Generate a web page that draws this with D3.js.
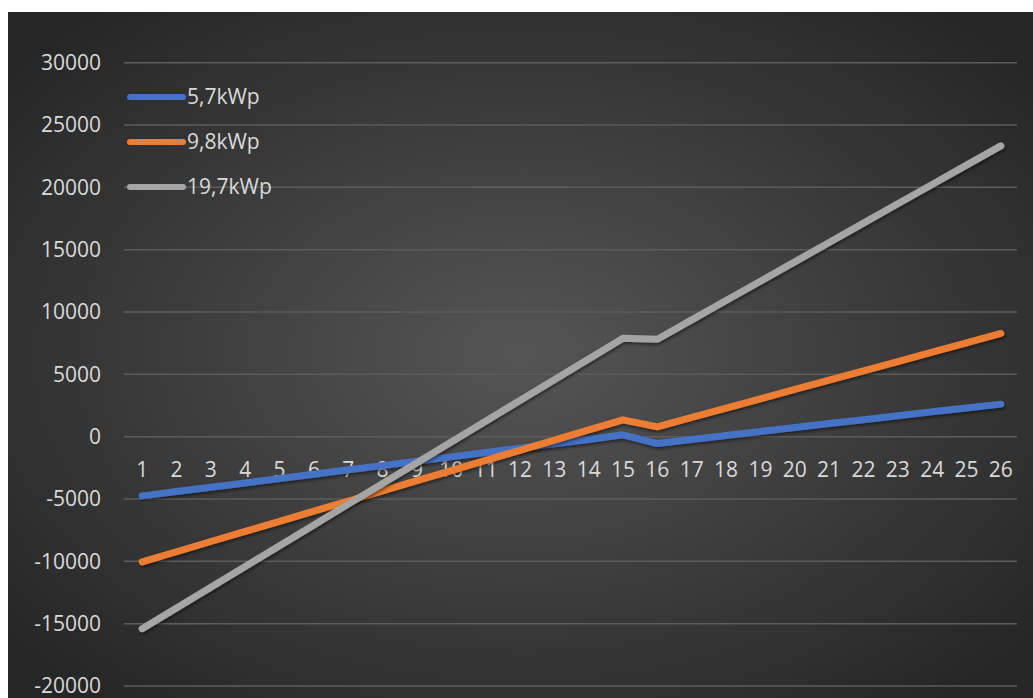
<!DOCTYPE html>
<html>
<head>
<meta charset="utf-8">
<script src="https://cdn.jsdelivr.net/npm/d3@7"></script>
<style>
  html, body { margin: 0; padding: 0; background: #fff; }
  svg { display: block; }
  .tick-label { font-family: "Open Sans", "Noto Sans", sans-serif; font-size: 21px; fill: #d9d9d9; }
</style>
</head>
<body>
<div id="chart"></div>
<script>
// categories (years)
const years = d3.range(1, 27);
const yTicks = [30000, 25000, 20000, 15000, 10000, 5000, 0, -5000, -10000, -15000, -20000];

// series values
const kwp57 = [-4750, -4400, -4060, -3710, -3360, -3010, -2660, -2320, -1970, -1620,
  -1270, -920, -570, -220, 150, -550, -230, 90, 410, 730, 1050, 1360, 1680, 2000, 2300, 2610];
const kwp98 = [-10040, -9230, -8410, -7600, -6790, -5970, -5160, -4350, -3530, -2720,
  -1900, -1090, -280, 540, 1350, 790, 1540, 2290, 3040, 3790, 4530, 5280, 6030, 6780, 7530, 8280];
const kwp197 = [-15400, -13740, -12070, -10410, -8740, -7080, -5410, -3750, -2090, -420,
  1240, 2910, 4570, 6240, 7900, 7820, 9370, 10920, 12470, 14020, 15580, 17130, 18680, 20230, 21780, 23330];

const seriesNames = ['5,7kWp', '9,8kWp', '19,7kWp'];
const seriesColors = ['#4472c4', '#ed7d31', '#a5a5a5'];
const seriesData = [kwp57, kwp98, kwp197];

const W = 1033, H = 698;
const svg = d3.select('#chart').append('svg').attr('width', W).attr('height', H);

const defs = svg.append('defs');
const grad = defs.append('radialGradient').attr('id', 'bg')
  .attr('cx', '50%').attr('cy', '50%').attr('r', '65%');
grad.append('stop').attr('offset', '0%').attr('stop-color', '#555555');
grad.append('stop').attr('offset', '100%').attr('stop-color', '#262626');

const shadow = defs.append('filter').attr('id', 'shadow')
  .attr('x', '-5%').attr('y', '-5%').attr('width', '110%').attr('height', '110%');
shadow.append('feDropShadow').attr('dx', 1).attr('dy', 2).attr('stdDeviation', 1.5)
  .attr('flood-color', '#000').attr('flood-opacity', 0.5);

// chart background
svg.append('rect').attr('x', 8).attr('y', 12).attr('width', W - 8).attr('height', H - 12)
  .attr('fill', 'url(#bg)');

const x = d3.scaleBand().domain(years).range([125, 1018]);
const y = d3.scaleLinear().domain([-20000, 30000]).range([686, 62.7]);

// gridlines
svg.append('g').selectAll('line').data(yTicks).enter().append('line')
  .attr('x1', 124).attr('x2', 1017)
  .attr('y1', d => y(d)).attr('y2', d => y(d))
  .attr('stroke', '#5c5c5c').attr('stroke-width', 1.5);

// y labels
svg.append('g').selectAll('text').data(yTicks).enter().append('text')
  .attr('class', 'tick-label')
  .attr('x', 101).attr('y', d => y(d))
  .attr('text-anchor', 'end').attr('dy', '0.35em')
  .text(d => d);

// x labels sit just under the zero line
svg.append('g').selectAll('text').data(years).enter().append('text')
  .attr('class', 'tick-label')
  .attr('x', d => x(d) + x.bandwidth() / 2).attr('y', 477)
  .attr('text-anchor', 'middle')
  .text(d => d);

// lines
const line = d3.line()
  .x((d, i) => x(years[i]) + x.bandwidth() / 2)
  .y(d => y(d));

seriesData.forEach((vals, i) => {
  svg.append('path')
    .datum(vals)
    .attr('d', line)
    .attr('fill', 'none')
    .attr('stroke', seriesColors[i])
    .attr('stroke-width', 7)
    .attr('stroke-linecap', 'round')
    .attr('stroke-linejoin', 'round')
    .attr('filter', 'url(#shadow)');
});

// legend
const legend = svg.append('g');
seriesNames.forEach((name, i) => {
  const ly = 97 + i * 45;
  legend.append('line')
    .attr('x1', 130).attr('x2', 183).attr('y1', ly).attr('y2', ly)
    .attr('stroke', seriesColors[i]).attr('stroke-width', 6)
    .attr('stroke-linecap', 'round');
  legend.append('text')
    .attr('class', 'tick-label')
    .attr('x', 187).attr('y', ly).attr('dy', '0.35em')
    .text(name);
});
</script>
</body>
</html>
